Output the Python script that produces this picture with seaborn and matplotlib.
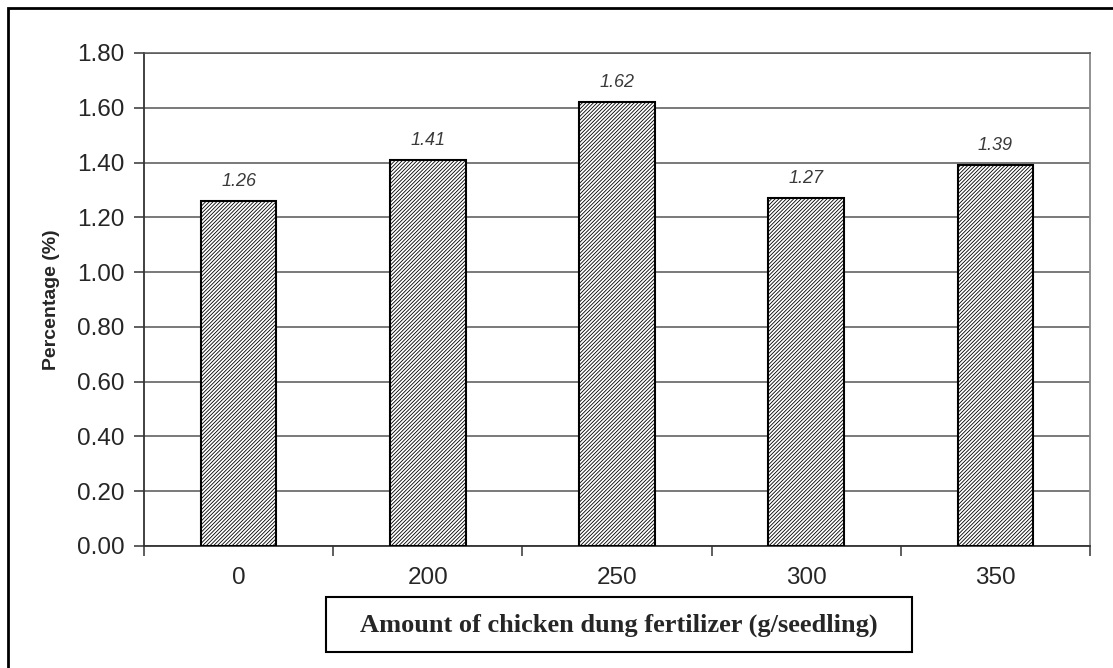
import matplotlib
matplotlib.use("Agg")
import matplotlib.pyplot as plt
from matplotlib.patches import Rectangle
import seaborn as sns
import pandas as pd

# Data
doses = ["0", "200", "250", "300", "350"]
percentages = [1.26, 1.41, 1.62, 1.27, 1.39]
y_ticks = [0.0, 0.2, 0.4, 0.6, 0.8, 1.0, 1.2, 1.4, 1.6, 1.8]

sns.set_style("white")
plt.rcParams["font.family"] = ["Liberation Sans", "DejaVu Sans"]
plt.rcParams["hatch.linewidth"] = 0.6
plt.rcParams["hatch.color"] = "black"

df = pd.DataFrame({"dose": doses, "pct": percentages})

fig = plt.figure(figsize=(11.13, 6.68), dpi=100)
ax = fig.add_axes([144 / 1113, 1 - 546 / 668, (1090 - 144) / 1113, (546 - 53) / 668])

sns.barplot(data=df, x="dose", y="pct", order=doses, color="white",
            width=0.4, edgecolor="black", linewidth=1.5, ax=ax, zorder=3)
for p in ax.patches:
    p.set_hatch("/////////")
    p.set_facecolor("white")

# Value labels above bars
for i, v in enumerate(percentages):
    ax.text(i, v + 0.04, f"{v:.2f}", ha="center", va="bottom",
            fontsize=13, fontstyle="italic", color="#3a3a3a")

ax.set_ylim(0, 1.8)
ax.set_xlim(-0.5, len(doses) - 0.5)
ax.set_yticks(y_ticks)
ax.set_yticklabels([f"{t:.2f}" for t in y_ticks])
ax.yaxis.grid(True, color="#555555", linewidth=1.1, zorder=0)
ax.set_axisbelow(True)

# Category boundary ticks on the x axis
ax.set_xticks(range(len(doses)))
ax.set_xticklabels(doses)
ax.set_xticks([i - 0.5 for i in range(len(doses) + 1)], minor=True)
ax.tick_params(axis="x", which="major", length=0, labelsize=17.5, pad=15)
ax.tick_params(axis="x", which="minor", length=7, width=1.1, color="#333333",
               direction="out", bottom=True)
ax.tick_params(axis="y", length=7, width=1.1, color="#333333",
               direction="out", left=True, labelsize=17.5, pad=7)

for side in ["left", "bottom"]:
    ax.spines[side].set_color("#333333")
    ax.spines[side].set_linewidth(1.3)
ax.spines["right"].set_color("#888888")
ax.spines["right"].set_linewidth(1.3)
ax.spines["top"].set_color("#555555")
ax.spines["top"].set_linewidth(1.1)

ax.set_xlabel("")
ax.set_ylabel("Percentage (%)", fontsize=14, fontweight="bold", labelpad=12)

# Boxed x-axis title
fig.text(619 / 1113, 1 - 625 / 668,
         "Amount of chicken dung fertilizer (g/seedling)",
         ha="center", va="center", fontsize=19, fontweight="bold",
         family=["Liberation Serif", "DejaVu Serif"])
fig.add_artist(Rectangle((326 / 1113, 1 - 652 / 668), (912 - 326) / 1113,
                         (652 - 597) / 668, transform=fig.transFigure,
                         fill=False, ec="black", lw=1.5))

# Outer frame
fig.add_artist(Rectangle((7.5 / 1113, -0.2), 1.3, 1.2 - 7.5 / 668,
                         transform=fig.transFigure, fill=False,
                         ec="black", lw=2.0))

fig.savefig("out.png", dpi=100)
